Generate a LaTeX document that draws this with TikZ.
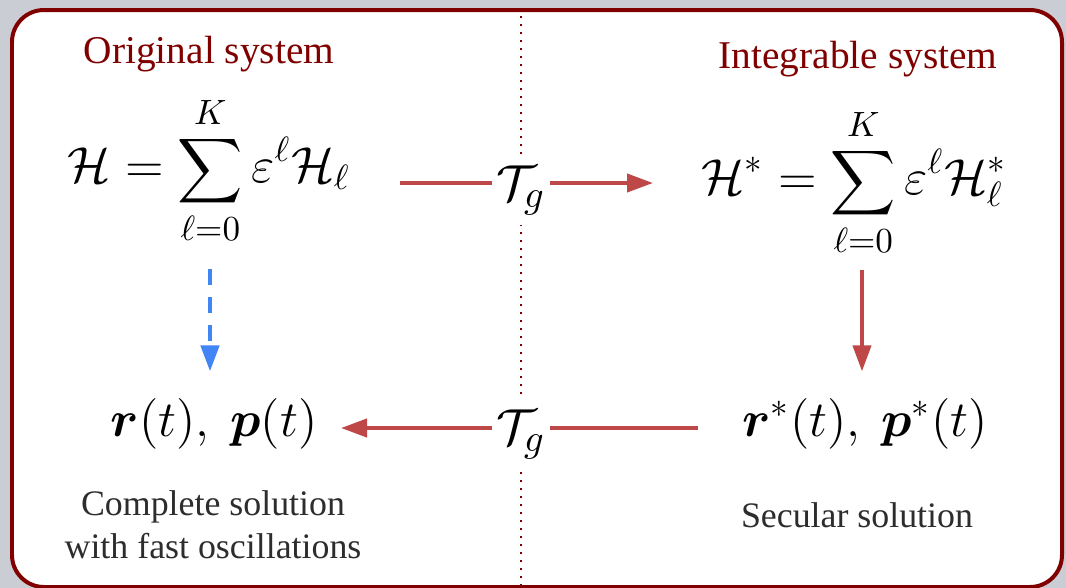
\documentclass[tikz,border=0pt]{standalone}
\usepackage{amsmath,amssymb,bm}
\usepackage[no-math]{fontspec}
\setmainfont{Liberation Serif}
\usetikzlibrary{arrows.meta}
\definecolor{bgcol}{RGB}{203,205,213}
\definecolor{framecol}{RGB}{128,0,0}
\definecolor{arrred}{RGB}{190,72,72}
\definecolor{arrblue}{RGB}{66,133,244}
\definecolor{captcol}{RGB}{45,45,45}
\newcommand{\mysum}{\mathop{\scalebox{0.87}{$\displaystyle\sum$}}\limits}
\tikzset{
  titletext/.style={font=\fontsize{11.2}{13}\selectfont, text=framecol, anchor=base, inner sep=0pt},
  eqnode/.style={font=\fontsize{14.8}{17}\selectfont, anchor=mid, inner sep=0pt},
  solnode/.style={font=\fontsize{14.5}{17}\selectfont, anchor=mid, inner sep=0pt},
  tgnode/.style={font=\fontsize{15.5}{17}\selectfont, anchor=base, fill=white, minimum width=5.7mm, inner xsep=0pt, inner ysep=1mm},
  captext/.style={font=\fontsize{10.2}{12.2}\selectfont, text=captcol, align=center, inner sep=0pt},
  redline/.style={draw=arrred, line width=0.4mm},
  redarrow/.style={draw=arrred, line width=0.4mm, -{Triangle[length=2.6mm,width=1.8mm]}},
  bluearrow/.style={draw=arrblue, line width=0.45mm, dash pattern=on 1.6mm off 1.2mm, -{Triangle[length=2.6mm,width=1.8mm]}},
  dotline/.style={draw=framecol, line width=0.22mm, dash pattern=on 0.22mm off 0.58mm},
  frame/.style={draw=framecol, line width=0.4mm, fill=white, rounded corners=3.2mm}
}
\begin{document}
\begin{tikzpicture}[x=0.1mm, y=-0.1mm]
  \useasboundingbox (0,0) rectangle (1066,588);
  \fill[bgcol] (0,0) rectangle (1066,588);
  \draw[frame] (12,10) rectangle (1062,587);

  % dotted divider
  \coordinate (dtop) at (521,16);
  \coordinate (dbot) at (521,587);
  \draw[dotline] (dtop) -- (dbot);

  % titles
  \node[titletext] (tL) at (209,63) {Original system};
  \node[titletext] (tR) at (858,68) {Integrable system};

  % equations
  \node[eqnode] (eqL) at (209,174) {$\displaystyle \mathcal{H} = \mysum_{\ell=0}^{K} \varepsilon^{\ell}\mathcal{H}_{\ell}$};
  \node[eqnode] (eqR) at (854,186) {$\displaystyle \mathcal{H}^{*} = \mysum_{\ell=0}^{K} \varepsilon^{\ell}\mathcal{H}^{*}_{\ell}$};

  % solutions
  \node[solnode] (solL) at (214,428) {$\bm{r}(t),\ \bm{p}(t)$};
  \node[solnode] (solR) at (865,428) {$\bm{r}^{*}(t),\ \bm{p}^{*}(t)$};

  % captions
  \node[captext] (cL) at (213,525) {Complete solution\\with fast oscillations};
  \node[captext, anchor=base] (cR) at (857,527) {Secular solution};

  % transformation labels
  \node[tgnode] (tg1) at (521,200) {$\mathcal{T}_g$};
  \node[tgnode] (tg2) at (521,444) {$\mathcal{T}_g$};

  % top arrow
  \coordinate (t1) at (400,183);
  \coordinate (t2) at (653,183);
  \draw[redline] (t1) -- (t1 -| tg1.west);
  \draw[redarrow] (t2 -| tg1.east) -- (t2);

  % bottom arrow
  \coordinate (b1) at (698,428);
  \coordinate (b2) at (341,428);
  \draw[redline] (b1) -- (b1 -| tg2.east);
  \draw[redarrow] (b2 -| tg2.west) -- (b2);

  % vertical arrows
  \coordinate (vR) at (862,270);
  \coordinate (vL) at (210,269);
  \draw[redarrow, shorten >=2.6mm] (vR) -- (vR |- solR.north);
  \draw[bluearrow, shorten >=2.6mm] (vL) -- (vL |- solL.north);
\end{tikzpicture}
\end{document}
